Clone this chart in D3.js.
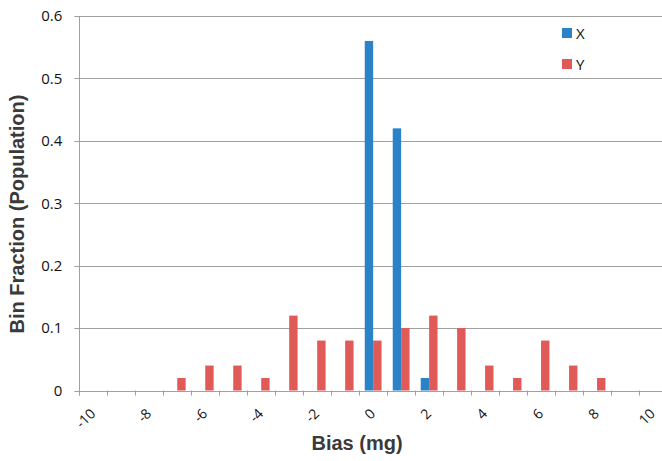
<!DOCTYPE html>
<html>
<head>
<meta charset="utf-8">
<script src="https://cdn.jsdelivr.net/npm/d3@7"></script>
<style>
	body { margin: 0; background: #fff; }
	svg { display: block; }
	.tick-label { font-family: "Open Sans", sans-serif; fill: #111; }
	.axis-title { font-family: "Liberation Sans", Arial, sans-serif; font-weight: bold; fill: #3a3a3a; }
</style>
</head>
<body>
<div id="chart"></div>
<script>
const WIDTH = 662;
const HEIGHT = 461;

// bias bins (mg)
const categories = [-10, -9, -8, -7, -6, -5, -4, -3, -2, -1, 0, 1, 2, 3, 4, 5, 6, 7, 8, 9, 10];
const seriesNames = ['X', 'Y'];
const xValues = [0, 0, 0, 0, 0, 0, 0, 0, 0, 0, 0.56, 0.42, 0.02, 0, 0, 0, 0, 0, 0, 0, 0];
const yValues = [0, 0, 0, 0.02, 0.04, 0.04, 0.02, 0.12, 0.08, 0.08, 0.08, 0.10, 0.12, 0.10, 0.04, 0.02, 0.08, 0.04, 0.02, 0, 0];
const xTickLabels = [-10, -8, -6, -4, -2, 0, 2, 4, 6, 8, 10];
const yTicks = [0, 0.1, 0.2, 0.3, 0.4, 0.5, 0.6];
const colors = ['#2a83c6', '#e05a58'];

const plot = { left: 79.3, right: 667, top: 16, bottom: 390.5 };

const svg = d3.select('#chart').append('svg')
	.attr('width', WIDTH)
	.attr('height', HEIGHT);

const x = d3.scaleBand()
	.domain(categories)
	.range([plot.left, plot.right])
	.paddingInner(0.4)
	.paddingOuter(0.2);

const xSub = d3.scaleBand()
	.domain(seriesNames)
	.range([0, x.bandwidth()]);

const y = d3.scaleLinear()
	.domain([0, 0.6])
	.range([plot.bottom, plot.top]);

// horizontal gridlines (extend left as tick marks)
svg.append('g')
	.selectAll('line')
	.data(yTicks)
	.join('line')
		.attr('x1', plot.left - 5)
		.attr('x2', WIDTH)
		.attr('y1', d => Math.round(y(d)) + 0.5)
		.attr('y2', d => Math.round(y(d)) + 0.5)
		.attr('stroke', '#a0a0a0')
		.attr('stroke-width', 1);

// y tick labels
const yAxis = d3.axisLeft(y)
	.tickValues(yTicks)
	.tickSize(0)
	.tickPadding(17)
	.tickFormat(d => d === 0 ? '0' : d3.format('.1f')(d));
const yAxisG = svg.append('g')
	.attr('transform', 'translate(' + plot.left + ',0)')
	.call(yAxis);
yAxisG.select('.domain').remove();
yAxisG.selectAll('text')
	.attr('class', 'tick-label')
	.style('font-size', '15px');

// bars
const rows = categories.map((c, i) => ({ cat: c, values: [xValues[i], yValues[i]] }));
const groups = svg.append('g')
	.selectAll('g')
	.data(rows)
	.join('g')
		.attr('transform', d => 'translate(' + x(d.cat) + ',0)');
groups.selectAll('rect')
	.data(d => d.values.map((v, i) => ({ name: seriesNames[i], value: v, i: i })))
	.join('rect')
		.filter(d => d.value > 0)
		.attr('x', d => xSub(d.name))
		.attr('width', xSub.bandwidth())
		.attr('y', d => y(d.value))
		.attr('height', d => y(0) - y(d.value))
		.attr('fill', d => colors[d.i]);

// y axis line
svg.append('line')
	.attr('x1', Math.round(plot.left) + 0.5)
	.attr('x2', Math.round(plot.left) + 0.5)
	.attr('y1', plot.top)
	.attr('y2', plot.bottom + 5)
	.attr('stroke', '#a0a0a0');

// x baseline and category boundary ticks
svg.append('line')
	.attr('x1', plot.left)
	.attr('x2', WIDTH)
	.attr('y1', Math.round(y(0)) + 0.5)
	.attr('y2', Math.round(y(0)) + 0.5)
	.attr('stroke', '#a0a0a0');
svg.append('g')
	.selectAll('line')
	.data(categories)
	.join('line')
		.attr('x1', d => Math.round(x(d) - x.step() * 0.2) + 0.5)
		.attr('x2', d => Math.round(x(d) - x.step() * 0.2) + 0.5)
		.attr('y1', plot.bottom)
		.attr('y2', plot.bottom + 5)
		.attr('stroke', '#a0a0a0');

// x tick labels (rotated)
svg.append('g')
	.selectAll('text')
	.data(xTickLabels)
	.join('text')
		.attr('class', 'tick-label')
		.style('font-size', '14px')
		.attr('text-anchor', 'end')
		.attr('transform', d => 'translate(' + (x(d) + x.bandwidth() / 2 + 3) + ',' + (plot.bottom + 24) + ') rotate(-45)')
		.text(d => d);

// axis titles
svg.append('text')
	.attr('class', 'axis-title')
	.style('font-size', '20px')
	.attr('text-anchor', 'middle')
	.attr('x', 357)
	.attr('y', 450)
	.text('Bias (mg)');

svg.append('text')
	.attr('class', 'axis-title')
	.style('font-size', '20px')
	.attr('text-anchor', 'middle')
	.attr('transform', 'translate(24,' + 214 + ') rotate(-90)')
	.text('Bin Fraction (Population)');

// legend
const legend = svg.append('g')
	.attr('transform', 'translate(562,28)')
	.selectAll('g')
	.data(seriesNames)
	.join('g')
		.attr('transform', (d, i) => 'translate(0,' + (i * 31) + ')');
legend.append('rect')
	.attr('width', 10)
	.attr('height', 10)
	.attr('fill', (d, i) => colors[i]);
legend.append('text')
	.attr('class', 'tick-label')
	.style('font-size', '15px')
	.attr('x', 14)
	.attr('y', 10.5)
	.text(d => d);
</script>
</body>
</html>
